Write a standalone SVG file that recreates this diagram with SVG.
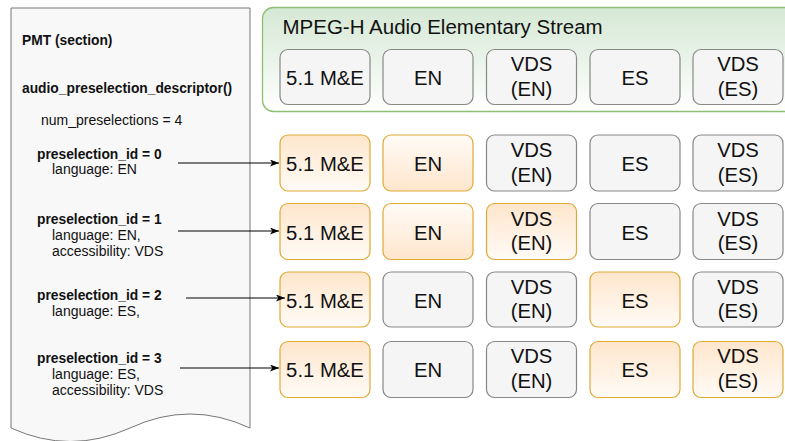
<svg xmlns="http://www.w3.org/2000/svg" width="785" height="441" viewBox="0 0 785 441">
  <style>
    .doc { fill: #f8f8f8; stroke: #777; stroke-width: 1; }
    .t { font-family: "Liberation Sans", Arial, sans-serif; fill: #111; }
    .b { font-weight: bold; font-size: 13.8px; }
    .r { font-size: 14px; }
    .lbl { font-size: 20.3px; text-anchor: middle; }
    .grey { fill: #f5f5f5; stroke: #888; stroke-width: 1.2; }
    .orA { fill: url(#orDown); stroke: #e0a935; stroke-width: 1.2; }
    .orB { fill: url(#orUp); stroke: #e0a935; stroke-width: 1.2; }
    .conn { stroke: #000; stroke-width: 1.2; fill: none; marker-end: url(#arrow); }
  </style>
  <defs>
    <linearGradient id="green" x1="0" y1="0" x2="0" y2="1">
      <stop offset="0" stop-color="#d5e8d4"/>
      <stop offset="1" stop-color="#ffffff"/>
    </linearGradient>
    <linearGradient id="orDown" x1="0" y1="0" x2="0" y2="1">
      <stop offset="0" stop-color="#ffe6cc"/>
      <stop offset="1" stop-color="#fffbf7"/>
    </linearGradient>
    <linearGradient id="orUp" x1="0" y1="0" x2="0" y2="1">
      <stop offset="0" stop-color="#fffbf7"/>
      <stop offset="1" stop-color="#ffe6cc"/>
    </linearGradient>
    <marker id="arrow" markerUnits="userSpaceOnUse" markerWidth="10" markerHeight="8" refX="9" refY="3.5" orient="auto">
      <path d="M0,0 L9,3.5 L0,7 L2.3,3.5 Z" fill="#000"/>
    </marker>
  </defs>

  <!-- PMT document -->
  <g id="pmt">
    <path class="doc" d="M11,8 H250 V428 Q190,400 130,428 Q70,455 11,428 Z"/>
    <text class="t b" x="22" y="45">PMT (section)</text>
    <text class="t b" x="22" y="93">audio_preselection_descriptor()</text>
    <text class="t r" x="41" y="125">num_preselections = 4</text>
    <text class="t b" x="37" y="159">preselection_id = 0</text>
    <text class="t r" x="52" y="174">language: EN</text>
    <text class="t b" x="37" y="224">preselection_id = 1</text>
    <text class="t r" x="52" y="240">language: EN,</text>
    <text class="t r" x="52" y="256">accessibility: VDS</text>
    <text class="t b" x="37" y="300">preselection_id = 2</text>
    <text class="t r" x="52" y="316">language: ES,</text>
    <text class="t b" x="37" y="363">preselection_id = 3</text>
    <text class="t r" x="52" y="379">language: ES,</text>
    <text class="t r" x="52" y="395">accessibility: VDS</text>
  </g>

  <!-- Elementary stream container -->
  <g id="stream">
    <rect x="262.5" y="7.5" width="540" height="104" rx="11" fill="url(#green)" stroke="#8fbf72" stroke-width="1.3"/>
    <text class="t" x="282.5" y="34" font-size="20.5px">MPEG-H Audio Elementary Stream</text>
    <g id="s-me"><rect class="grey" x="280" y="49.5" width="90" height="55" rx="8"/><text class="t lbl" x="325" y="84.5">5.1 M&amp;E</text></g>
    <g id="s-en"><rect class="grey" x="383" y="49.5" width="90" height="55" rx="8"/><text class="t lbl" x="428" y="84.5">EN</text></g>
    <g id="s-vdsen"><rect class="grey" x="486.5" y="49.5" width="90" height="55" rx="8"/><text class="t lbl" x="531.5" y="71">VDS</text><text class="t lbl" x="531.5" y="95.5">(EN)</text></g>
    <g id="s-es"><rect class="grey" x="590" y="49.5" width="90" height="55" rx="8"/><text class="t lbl" x="635" y="84.5">ES</text></g>
    <g id="s-vdses"><rect class="grey" x="693" y="49.5" width="90" height="55" rx="8"/><text class="t lbl" x="738" y="71">VDS</text><text class="t lbl" x="738" y="95.5">(ES)</text></g>
  </g>

  <!-- Preselection 0 -->
  <g id="p0">
    <g id="p0-me"><rect class="orA" x="280" y="135" width="90" height="56" rx="8"/><text class="t lbl" x="325" y="171">5.1 M&amp;E</text></g>
    <g id="p0-en"><rect class="orB" x="383" y="135" width="90" height="56" rx="8"/><text class="t lbl" x="428" y="171">EN</text></g>
    <g id="p0-vdsen"><rect class="grey" x="486.5" y="135" width="90" height="56" rx="8"/><text class="t lbl" x="531.5" y="157">VDS</text><text class="t lbl" x="531.5" y="181.5">(EN)</text></g>
    <g id="p0-es"><rect class="grey" x="590" y="135" width="90" height="56" rx="8"/><text class="t lbl" x="635" y="171">ES</text></g>
    <g id="p0-vdses"><rect class="grey" x="693" y="135" width="90" height="56" rx="8"/><text class="t lbl" x="738" y="157">VDS</text><text class="t lbl" x="738" y="181.5">(ES)</text></g>
  </g>

  <!-- Preselection 1 -->
  <g id="p1">
    <g id="p1-me"><rect class="orA" x="280" y="203.5" width="90" height="56" rx="8"/><text class="t lbl" x="325" y="239.5">5.1 M&amp;E</text></g>
    <g id="p1-en"><rect class="orB" x="383" y="203.5" width="90" height="56" rx="8"/><text class="t lbl" x="428" y="239.5">EN</text></g>
    <g id="p1-vdsen"><rect class="orA" x="486.5" y="203.5" width="90" height="56" rx="8"/><text class="t lbl" x="531.5" y="225.5">VDS</text><text class="t lbl" x="531.5" y="250">(EN)</text></g>
    <g id="p1-es"><rect class="grey" x="590" y="203.5" width="90" height="56" rx="8"/><text class="t lbl" x="635" y="239.5">ES</text></g>
    <g id="p1-vdses"><rect class="grey" x="693" y="203.5" width="90" height="56" rx="8"/><text class="t lbl" x="738" y="225.5">VDS</text><text class="t lbl" x="738" y="250">(ES)</text></g>
  </g>

  <!-- Preselection 2 -->
  <g id="p2">
    <g id="p2-me"><rect class="orA" x="280" y="272" width="90" height="55" rx="8"/><text class="t lbl" x="325" y="307.5">5.1 M&amp;E</text></g>
    <g id="p2-en"><rect class="grey" x="383" y="272" width="90" height="55" rx="8"/><text class="t lbl" x="428" y="307.5">EN</text></g>
    <g id="p2-vdsen"><rect class="grey" x="486.5" y="272" width="90" height="55" rx="8"/><text class="t lbl" x="531.5" y="293.5">VDS</text><text class="t lbl" x="531.5" y="318">(EN)</text></g>
    <g id="p2-es"><rect class="orA" x="590" y="272" width="90" height="55" rx="8"/><text class="t lbl" x="635" y="307.5">ES</text></g>
    <g id="p2-vdses"><rect class="grey" x="693" y="272" width="90" height="55" rx="8"/><text class="t lbl" x="738" y="293.5">VDS</text><text class="t lbl" x="738" y="318">(ES)</text></g>
  </g>

  <!-- Preselection 3 -->
  <g id="p3">
    <g id="p3-me"><rect class="orA" x="280" y="341.5" width="90" height="56" rx="8"/><text class="t lbl" x="325" y="377">5.1 M&amp;E</text></g>
    <g id="p3-en"><rect class="grey" x="383" y="341.5" width="90" height="56" rx="8"/><text class="t lbl" x="428" y="377">EN</text></g>
    <g id="p3-vdsen"><rect class="grey" x="486.5" y="341.5" width="90" height="56" rx="8"/><text class="t lbl" x="531.5" y="363">VDS</text><text class="t lbl" x="531.5" y="387.5">(EN)</text></g>
    <g id="p3-es"><rect class="orA" x="590" y="341.5" width="90" height="56" rx="8"/><text class="t lbl" x="635" y="377">ES</text></g>
    <g id="p3-vdses"><rect class="orA" x="693" y="341.5" width="90" height="56" rx="8"/><text class="t lbl" x="738" y="363">VDS</text><text class="t lbl" x="738" y="387.5">(ES)</text></g>
  </g>

  <!-- connectors -->
  <g id="connectors">
    <path class="conn" d="M178,163 H279"/>
    <path class="conn" d="M178,231 H279"/>
    <path class="conn" d="M186,298 H285"/>
    <path class="conn" d="M180,368 H279"/>
  </g>
</svg>
